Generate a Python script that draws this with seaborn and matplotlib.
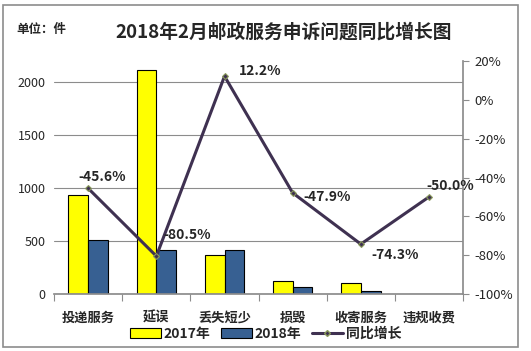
import matplotlib
matplotlib.use("Agg")
import matplotlib.pyplot as plt
import seaborn as sns
import pandas as pd
import numpy as np
from matplotlib.patches import Patch, Rectangle
from matplotlib.lines import Line2D

categories = ["投递服务", "延误", "丢失短少", "损毁", "收寄服务", "违规收费"]
v2017 = [934, 2113, 368, 123, 104, 4]
v2018 = [508, 412, 413, 64, 27, 2]
growth = [-45.6, -80.5, 12.2, -47.9, -74.3, -50.0]
series_names = ["2017年", "2018年", "同比增长"]
left_ticks = [0, 500, 1000, 1500, 2000]
right_ticks = [20, 0, -20, -40, -60, -80, -100]

sns.set_theme(style="white")
plt.rcParams['font.family'] = ['Noto Sans CJK SC', 'DejaVu Sans']
plt.rcParams['axes.unicode_minus'] = False

df = pd.DataFrame({
    "cat": categories * 2,
    "year": [series_names[0]] * 6 + [series_names[1]] * 6,
    "val": v2017 + v2018,
})

fig = plt.figure(figsize=(5.31, 3.51), dpi=100)
ax = fig.add_axes([0.102, 0.1624, 0.770, 0.6636])
sns.barplot(data=df, x="cat", y="val", hue="year", order=categories,
            palette=["#FFFF00", "#376092"], saturation=1, width=0.58, gap=0,
            edgecolor="black", linewidth=0.8, ax=ax, legend=False)
ax.set_ylim(0, 2200)
ax.set_xlim(-0.5, 5.5)
ax.set_yticks(left_ticks)
ax.set_yticklabels([str(t) for t in left_ticks], fontsize=9)
ax.yaxis.grid(True, color="#8c8c8c", linewidth=0.8)
ax.set_axisbelow(True)
ax.set_xlabel("")
ax.set_ylabel("")
for s in ["left", "top", "right"]:
    ax.spines[s].set_visible(False)
ax.spines["bottom"].set_color("#8c8c8c")
ax.tick_params(axis="y", length=0, pad=6)
ax.set_xticks(range(6))
ax.set_xticklabels(categories, fontsize=9.5, fontweight="bold")
ax.tick_params(axis="x", length=0, pad=12)
ax.set_xticks(np.arange(-0.5, 6.0, 1.0), minor=True)
ax.tick_params(axis="x", which="minor", length=5, color="#8c8c8c", width=0.8, bottom=True)

ax2 = ax.twinx()
gdf = pd.DataFrame({"cat": categories, "g": growth})
sns.pointplot(data=gdf, x="cat", y="g", order=categories, color="#3F3151",
              markers="D", markersize=3, linewidth=2.2, ax=ax2)
for ln in ax2.lines:
    ln.set_markeredgecolor("#8A9A5B")
    ln.set_markerfacecolor("#3F3151")
    ln.set_markeredgewidth(0.8)
ax2.set_ylim(-100, 20)
ax2.set_xlim(-0.5, 5.5)
ax2.set_yticks(right_ticks)
ax2.set_yticklabels([f"{t}%" for t in right_ticks], fontsize=9.5)
ax2.set_ylabel("")
ax2.set_xlabel("")
for s in ["left", "top", "bottom"]:
    ax2.spines[s].set_visible(False)
ax2.spines["right"].set_color("#8c8c8c")
ax2.tick_params(axis="y", length=4, color="#8c8c8c", width=0.8, pad=4, right=True)
ax2.grid(False)

offsets = [(10, 8), (22, 15), (26, 4), (25, -3), (25, -8), (15, 8)]
for i, (g, off) in enumerate(zip(growth, offsets)):
    ax2.annotate(f"{g:.1f}%", (i, g), xytext=off, textcoords="offset points",
                 ha="center", va="center", fontsize=10, fontweight="bold")

fig.text(0.03, 0.915, "单位：件", fontsize=9, fontweight="bold", ha="left", va="center")
fig.text(0.535, 0.91, "2018年2月邮政服务申诉问题同比增长图", fontsize=13.5, fontweight="bold",
         ha="center", va="center")

handles = [Patch(facecolor="#FFFF00", edgecolor="black", linewidth=0.8),
           Patch(facecolor="#376092", edgecolor="black", linewidth=0.8),
           Line2D([0], [0], color="#3F3151", linewidth=2.2, marker="D", markersize=3,
                  markerfacecolor="#3F3151", markeredgecolor="#8A9A5B")]
leg = fig.legend(handles, series_names, loc="center", bbox_to_anchor=(0.5, 0.048), ncol=3,
                 frameon=False, prop={"size": 10, "weight": "bold"}, handlelength=2.2,
                 handletextpad=0.2, columnspacing=0.8)

fig.patches.append(Rectangle((0.006, 0.012), 0.97, 0.975, transform=fig.transFigure,
                             fill=False, edgecolor="#8c8c8c", linewidth=1.2))

fig.savefig("out.png", dpi=100)
